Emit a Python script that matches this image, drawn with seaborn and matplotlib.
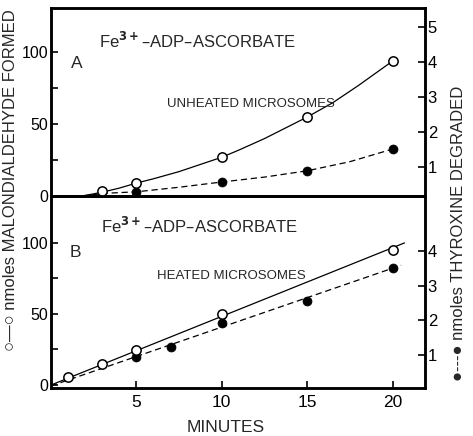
import numpy as np
import pandas as pd
import matplotlib
matplotlib.use("Agg")
import matplotlib.pyplot as plt
import seaborn as sns

# ---------------- data ----------------
# Panel A: unheated microsomes
a_open_t = [3, 5, 10, 15, 20]
a_open_mda = [3.5, 9, 27, 55, 94]
a_fill_t = [5, 10, 15, 20]
a_fill_thy = [0.29, 0.57, 0.89, 1.51]
a_curve_t = [1.8, 2.5, 3.3, 4, 5, 6, 7.5, 9, 10, 11, 12.5, 14, 15, 16.5, 18, 20]
a_curve_mda = [0, 1.5, 3.5, 5.5, 9, 12, 17, 23, 27, 32, 40, 49, 55, 65, 77, 94]
a_dash_t = [1.8, 3.3, 5, 7.5, 10, 12.5, 15, 17.5, 20]
a_dash_thy = [0.17, 0.25, 0.29, 0.42, 0.57, 0.71, 0.89, 1.15, 1.51]

# Panel B: heated microsomes
b_open_t = [1, 3, 5, 10, 20]
b_open_mda = [5.6, 14.8, 24.6, 50, 95]
b_fill_t = [5, 7, 10, 15, 20]
b_fill_thy = [0.94, 1.23, 1.93, 2.57, 3.52]
b_line_t = [0, 20.7]
b_line_mda = [0, 100]
b_dash_t = [0, 20.5]
b_dash_thy = [0.1, 3.6]

x_ticks = [5, 10, 15, 20]
left_major = [0, 50, 100]
left_minor = [25, 75]
right_ticks_a = [1, 2, 3, 4, 5]
right_ticks_b = [1, 2, 3, 4]

# ---------------- style ----------------
sns.set_theme(style="ticks")
plt.rcParams['font.family'] = ['Liberation Sans', 'DejaVu Sans']
plt.rcParams['axes.linewidth'] = 1.8

W, H = 473, 436
fig = plt.figure(figsize=(W / 100, H / 100), dpi=100)

L, R = 51 / W, 425 / W
axA = fig.add_axes([L, 1 - 196 / H, R - L, (196 - 8) / H])
axB = fig.add_axes([L, 1 - 388 / H, R - L, (388 - 196) / H])
axA2 = axA.twinx()
axB2 = axB.twinx()

XL = (0, 21.9)
lw = 0.9

def style(ax, ax2, ylim, ylim2, rticks, show_x):
    ax.set_xlim(*XL)
    ax.set_ylim(*ylim)
    ax2.set_ylim(*ylim2)
    ax.set_yticks(left_major)
    ax.set_yticks(left_minor, minor=True)
    ax.set_yticklabels([str(v) for v in left_major])
    ax2.set_yticks(rticks)
    ax2.set_yticklabels([str(v) for v in rticks])
    ax.set_xticks(x_ticks)
    ax.set_xticklabels([str(v) for v in x_ticks] if show_x else [])
    ax.tick_params(axis='y', which='both', direction='in', length=5, width=1.2,
                   labelsize=11.5, pad=2, colors='black')
    ax2.tick_params(axis='y', direction='in', length=5, width=1.2,
                    labelsize=12, pad=2, colors='black')
    if show_x:
        ax.tick_params(axis='x', direction='in', length=5, width=1.2,
                       labelsize=12.5, pad=5, colors='black')
    else:
        ax.tick_params(axis='x', bottom=False, labelbottom=False)
    for a in (ax, ax2):
        for s in a.spines.values():
            s.set_visible(True)
            s.set_color('black')
            s.set_linewidth(1.8)
        a.set_xlabel('')
        a.set_ylabel('')
        a.grid(False)

# ---------------- panel A ----------------
sns.lineplot(x=a_curve_t, y=a_curve_mda, ax=axA, color='black', lw=lw,
             estimator=None, sort=False)
sns.lineplot(x=a_dash_t, y=a_dash_thy, ax=axA2, color='black', lw=lw,
             estimator=None, sort=False, linestyle=(0, (5, 3)))
sns.scatterplot(x=a_open_t, y=a_open_mda, ax=axA, marker='o', s=45,
                facecolor='white', edgecolor='black', linewidth=1.1, zorder=5)
sns.scatterplot(x=a_fill_t, y=a_fill_thy, ax=axA2, marker='o', s=42,
                color='black', edgecolor='black', linewidth=0.5, zorder=5)
style(axA, axA2, (0, 131), (0.17, 5.54), right_ticks_a, False)

axA.text(2.8, 108, r'Fe$^{\mathbf{3+}}$–ADP–ASCORBATE', fontsize=12, ha='left', va='center')
axA.text(1.5, 92, 'A', fontsize=12.5, ha='center', va='center')
axA.text(6.8, 64, 'UNHEATED MICROSOMES', fontsize=9.5, ha='left', va='center')

# ---------------- panel B ----------------
sns.lineplot(x=b_line_t, y=b_line_mda, ax=axB, color='black', lw=lw,
             estimator=None, sort=False)
sns.lineplot(x=b_dash_t, y=b_dash_thy, ax=axB2, color='black', lw=lw,
             estimator=None, sort=False, linestyle=(0, (5, 3)))
sns.scatterplot(x=b_open_t, y=b_open_mda, ax=axB, marker='o', s=45,
                facecolor='white', edgecolor='black', linewidth=1.1, zorder=5)
sns.scatterplot(x=b_fill_t, y=b_fill_thy, ax=axB2, marker='o', s=42,
                color='black', edgecolor='black', linewidth=0.5, zorder=5)
style(axB, axB2, (-2.1, 133), (0.04, 5.61), right_ticks_b, True)

axB.text(2.95, 112, r'Fe$^{\mathbf{3+}}$–ADP–ASCORBATE', fontsize=12, ha='left', va='center')
axB.text(1.4, 93, 'B', fontsize=12.5, ha='center', va='center')
axB.text(6.2, 77, 'HEATED MICROSOMES', fontsize=9.5, ha='left', va='center')

# bring primary axes above the twins so open circles sit on top
for ax, ax2 in ((axA, axA2), (axB, axB2)):
    ax2.set_zorder(ax.get_zorder() - 1)
    ax.patch.set_visible(False)

# ---------------- axis labels ----------------
fig.text(226 / W, 1 - 427 / H, 'MINUTES', fontsize=12.5, ha='center', va='center')
fig.text(11 / W, 1 - 180 / H, '○—○ nmoles MALONDIALDEHYDE FORMED',
         fontsize=12, rotation=90, ha='center', va='center',
         family=['Liberation Sans', 'DejaVu Sans'])
fig.text(458 / W, 1 - 233 / H, '●---● nmoles THYROXINE DEGRADED',
         fontsize=12, rotation=90, ha='center', va='center',
         family=['Liberation Sans', 'DejaVu Sans'])

fig.savefig('out.png', dpi=100)
